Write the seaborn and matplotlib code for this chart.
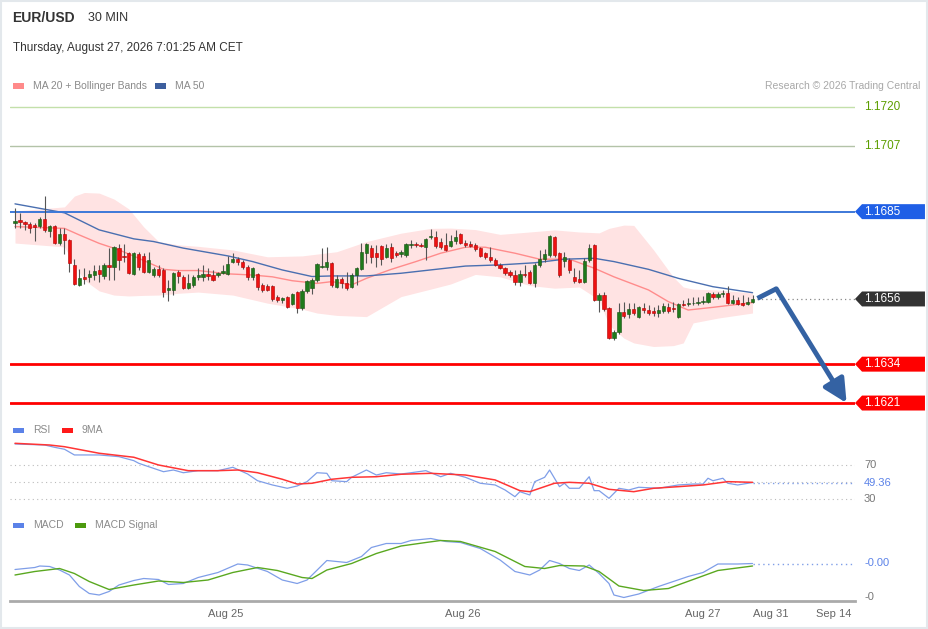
import numpy as np
import pandas as pd
import matplotlib
matplotlib.use("Agg")
import matplotlib.pyplot as plt
from matplotlib.patches import Polygon, Rectangle
import seaborn as sns

# ---- EUR/USD 30 min candles ----
opens = [1.16812, 1.16822, 1.16815, 1.16809, 1.16805, 1.16802, 1.16825, 1.16785, 1.16802, 1.16745,
         1.16775, 1.16755, 1.16672, 1.16605, 1.16631, 1.16631, 1.16638, 1.16655, 1.16635, 1.16672,
         1.16665, 1.16728, 1.16702, 1.16712, 1.16642, 1.16708, 1.16702, 1.16648, 1.16638, 1.16658,
         1.16655, 1.16588, 1.16588, 1.16648, 1.16631, 1.16595, 1.16605, 1.16631, 1.16631, 1.16642,
         1.16638, 1.16638, 1.16645, 1.16642, 1.16682, 1.16692, 1.16682, 1.16665, 1.16631, 1.16642,
         1.16605, 1.16601, 1.16601, 1.16565, 1.16555, 1.16565, 1.16541, 1.16581, 1.16528, 1.16585,
         1.16595, 1.16621, 1.16665, 1.16665, 1.16678, 1.16598, 1.16625, 1.16611, 1.16598, 1.16638,
         1.16658, 1.16712, 1.16728, 1.16712, 1.16735, 1.16698, 1.16732, 1.16712, 1.16708, 1.16705,
         1.16739, 1.16742, 1.16739, 1.16732, 1.16765, 1.16765, 1.16749, 1.16739, 1.16735, 1.16752,
         1.16775, 1.16745, 1.16742, 1.16739, 1.16728, 1.16712, 1.16698, 1.16688, 1.16672, 1.16662,
         1.16648, 1.16638, 1.16615, 1.16642, 1.16648, 1.16611, 1.16672, 1.16692, 1.16705, 1.16765,
         1.16712, 1.16685, 1.16688, 1.16631, 1.16625, 1.16615, 1.16688, 1.16739, 1.16555, 1.16571,
         1.16528, 1.16427, 1.16448, 1.16514, 1.16508, 1.16524, 1.16498, 1.16528, 1.16521, 1.16518,
         1.16511, 1.16518, 1.16531, 1.16528, 1.16498, 1.16541, 1.16541, 1.16544, 1.16545, 1.16548,
         1.16548, 1.16575, 1.16565, 1.16575, 1.16578, 1.16545, 1.16555, 1.16545, 1.16541, 1.16548]
highs = [1.16862, 1.16846, 1.16819, 1.16815, 1.16812, 1.16832, 1.16902, 1.16805, 1.16805, 1.16795,
         1.16795, 1.16759, 1.16692, 1.16658, 1.16662, 1.16655, 1.16672, 1.16672, 1.16678, 1.16728,
         1.16735, 1.16742, 1.16742, 1.16715, 1.16715, 1.16715, 1.16712, 1.16715, 1.16665, 1.16672,
         1.16662, 1.16621, 1.16648, 1.16655, 1.16638, 1.16642, 1.16638, 1.16662, 1.16672, 1.16662,
         1.16655, 1.16648, 1.16672, 1.16702, 1.16712, 1.16698, 1.16688, 1.16672, 1.16665, 1.16645,
         1.16611, 1.16608, 1.16605, 1.16571, 1.16565, 1.16568, 1.16578, 1.16585, 1.16591, 1.16621,
         1.16628, 1.16678, 1.16728, 1.16732, 1.16682, 1.16638, 1.16631, 1.16648, 1.16645, 1.16665,
         1.16745, 1.16745, 1.16739, 1.16739, 1.16739, 1.16742, 1.16745, 1.16718, 1.16722, 1.16745,
         1.16755, 1.16749, 1.16745, 1.16762, 1.16792, 1.16785, 1.16762, 1.16779, 1.16772, 1.16789,
         1.16779, 1.16755, 1.16752, 1.16745, 1.16732, 1.16715, 1.16732, 1.16695, 1.16678, 1.16665,
         1.16655, 1.16655, 1.16655, 1.16672, 1.16655, 1.16678, 1.16722, 1.16725, 1.16772, 1.16769,
         1.16715, 1.16715, 1.16695, 1.16662, 1.16655, 1.16695, 1.16742, 1.16742, 1.16578, 1.16581,
         1.16531, 1.16454, 1.16545, 1.16548, 1.16545, 1.16545, 1.16534, 1.16545, 1.16538, 1.16531,
         1.16538, 1.16545, 1.16545, 1.16548, 1.16545, 1.16555, 1.16561, 1.16565, 1.16565, 1.16568,
         1.16581, 1.16581, 1.16581, 1.16588, 1.16601, 1.16571, 1.16565, 1.16571, 1.16565, 1.16571]
lows = [1.16795, 1.16795, 1.16789, 1.16779, 1.16752, 1.16795, 1.16782, 1.16765, 1.16742, 1.16739,
        1.16708, 1.16648, 1.16605, 1.16601, 1.16608, 1.16615, 1.16621, 1.16615, 1.16625, 1.16621,
        1.16621, 1.16655, 1.16682, 1.16642, 1.16638, 1.16655, 1.16645, 1.16645, 1.16631, 1.16631,
        1.16565, 1.16551, 1.16571, 1.16611, 1.16591, 1.16591, 1.16598, 1.16621, 1.16618, 1.16621,
        1.16618, 1.16631, 1.16642, 1.16638, 1.16678, 1.16672, 1.16658, 1.16621, 1.16621, 1.16588,
        1.16581, 1.16585, 1.16551, 1.16548, 1.16545, 1.16528, 1.16538, 1.16511, 1.16521, 1.16578,
        1.16575, 1.16615, 1.16662, 1.16655, 1.16598, 1.16595, 1.16595, 1.16588, 1.16595, 1.16605,
        1.16655, 1.16678, 1.16678, 1.16665, 1.16672, 1.16695, 1.16682, 1.16698, 1.16698, 1.16698,
        1.16728, 1.16732, 1.16732, 1.16688, 1.16759, 1.16728, 1.16725, 1.16718, 1.16732, 1.16742,
        1.16742, 1.16732, 1.16732, 1.16718, 1.16698, 1.16692, 1.16682, 1.16668, 1.16658, 1.16638,
        1.16631, 1.16605, 1.16601, 1.16631, 1.16608, 1.16598, 1.16665, 1.16682, 1.16698, 1.16698,
        1.16631, 1.16665, 1.16645, 1.16611, 1.16611, 1.16611, 1.16682, 1.16551, 1.16514, 1.16518,
        1.16424, 1.16421, 1.16441, 1.16494, 1.16494, 1.16504, 1.16494, 1.16511, 1.16504, 1.16501,
        1.16498, 1.16511, 1.16511, 1.16514, 1.16494, 1.16534, 1.16534, 1.16538, 1.16538, 1.16541,
        1.16545, 1.16558, 1.16558, 1.16565, 1.16541, 1.16541, 1.16538, 1.16534, 1.16538, 1.16545]
closes = [1.16819, 1.16815, 1.16809, 1.16795, 1.16799, 1.16825, 1.16789, 1.16802, 1.16745, 1.16775,
          1.16755, 1.16678, 1.16608, 1.16628, 1.16625, 1.16642, 1.16652, 1.16642, 1.16672, 1.16665,
          1.16732, 1.16688, 1.16698, 1.16645, 1.16712, 1.16665, 1.16648, 1.16688, 1.16658, 1.16638,
          1.16581, 1.16595, 1.16645, 1.16635, 1.16595, 1.16611, 1.16631, 1.16638, 1.16642, 1.16635,
          1.16621, 1.16645, 1.16652, 1.16675, 1.16692, 1.16682, 1.16665, 1.16631, 1.16662, 1.16598,
          1.16588, 1.16588, 1.16558, 1.16555, 1.16561, 1.16531, 1.16575, 1.16528, 1.16585, 1.16618,
          1.16621, 1.16675, 1.16668, 1.16682, 1.16605, 1.16625, 1.16611, 1.16595, 1.16638, 1.16662,
          1.16715, 1.16742, 1.16698, 1.16698, 1.16692, 1.16728, 1.16695, 1.16705, 1.16715, 1.16742,
          1.16742, 1.16739, 1.16735, 1.16759, 1.16769, 1.16735, 1.16732, 1.16722, 1.16752, 1.16765,
          1.16745, 1.16739, 1.16735, 1.16725, 1.16702, 1.16698, 1.16688, 1.16672, 1.16662, 1.16645,
          1.16638, 1.16615, 1.16642, 1.16638, 1.16611, 1.16672, 1.16692, 1.16708, 1.16769, 1.16705,
          1.16638, 1.16698, 1.16655, 1.16618, 1.16615, 1.16685, 1.16728, 1.16555, 1.16571, 1.16524,
          1.16427, 1.16448, 1.16514, 1.16501, 1.16524, 1.16511, 1.16531, 1.16521, 1.16511, 1.16511,
          1.16521, 1.16534, 1.16518, 1.16524, 1.16541, 1.16538, 1.16545, 1.16546, 1.16548, 1.16551,
          1.16578, 1.16565, 1.16575, 1.16578, 1.16545, 1.16555, 1.16541, 1.16538, 1.16548, 1.16558]

# ---- overlays ----
bb_idx = [0, 10, 12, 14, 17, 20, 23, 26, 29, 33, 37, 44, 51, 58, 61, 65, 71, 78, 84, 88,
          93, 98, 104, 109, 114, 118, 120, 123, 125, 129, 133, 135, 137, 142, 149]
bb_upper = [1.16852, 1.16866, 1.16902, 1.16914, 1.16912, 1.16892, 1.16859, 1.16799, 1.16750, 1.16739,
            1.16734, 1.16722, 1.16699, 1.16702, 1.16708, 1.16716, 1.16750, 1.16778, 1.16794, 1.16795,
            1.16790, 1.16774, 1.16782, 1.16789, 1.16782, 1.16779, 1.16794, 1.16805, 1.16804, 1.16722,
            1.16631, 1.16598, 1.16591, 1.16588, 1.16578]
bb_lower = [1.16745, 1.16732, 1.16672, 1.16621, 1.16585, 1.16571, 1.16568, 1.16570, 1.16571, 1.16577,
            1.16581, 1.16571, 1.16544, 1.16524, 1.16511, 1.16503, 1.16499, 1.16566, 1.16591, 1.16608,
            1.16640, 1.16632, 1.16603, 1.16594, 1.16598, 1.16555, 1.16471, 1.16427, 1.16411, 1.16399,
            1.16402, 1.16411, 1.16478, 1.16494, 1.16511]

ma20_idx = [0, 10, 13, 17, 21, 25, 30, 33, 37, 43, 48, 52, 56, 61, 64, 68, 71, 76, 81, 86,
            91, 95, 101, 106, 112, 117, 121, 128, 132, 136, 141, 149]
ma20 = [1.16800, 1.16794, 1.16772, 1.16744, 1.16722, 1.16694, 1.16657, 1.16653, 1.16653, 1.16642,
        1.16638, 1.16632, 1.16619, 1.16610, 1.16616, 1.16605, 1.16627, 1.16657, 1.16683, 1.16711,
        1.16731, 1.16731, 1.16711, 1.16691, 1.16691, 1.16661, 1.16632, 1.16588, 1.16549, 1.16521,
        1.16530, 1.16546]

ma50_idx = [0, 10, 17, 24, 28, 34, 43, 48, 54, 60, 64, 71, 78, 85, 91, 98, 105, 111, 117, 121,
            128, 134, 141, 149]
ma50 = [1.16876, 1.16846, 1.16789, 1.16759, 1.16750, 1.16728, 1.16702, 1.16683, 1.16655, 1.16633,
        1.16635, 1.16635, 1.16644, 1.16657, 1.16668, 1.16672, 1.16679, 1.16691, 1.16694, 1.16683,
        1.16657, 1.16627, 1.16599, 1.16579]

# ---- key levels and forecast ----
levels = [1.1720, 1.1707, 1.1685, 1.1634, 1.1621]
forecast_idx = [150, 153.8, 168]
forecast_price = [1.1656, 1.16592, 1.1621]

# ---- RSI ----
rsi_idx = [0, 6, 8, 10, 12, 17, 21, 24, 25, 27, 30, 32, 34, 37, 41, 44, 47, 49, 52, 55,
           57, 59, 61, 63, 64, 67, 68, 71, 73, 75, 78, 80, 83, 86, 88, 91, 94, 97, 99, 101,
           102, 104, 105, 107, 108, 110, 111, 112, 114, 116, 117, 118, 120, 122, 124, 126, 130, 134, 137, 139,
           140, 141, 143, 144, 146, 149]
rsi = [94.7, 93.5, 90.8, 88.5, 81.8, 81.8, 79.8, 75.1, 72.0, 68.0, 62.1, 64.1, 60.9, 63.3, 63.3, 67.3, 59.4, 51.5, 46.5, 42.6,
       45.3, 50.4, 60.9, 60.2, 51.5, 50.4, 55.5, 64.1, 58.2, 60.9, 59.4, 60.9, 63.3, 56.2, 60.2, 55.5, 48.5, 46.5, 40.6, 32.7,
       38.6, 34.7, 50.4, 55.5, 64.1, 44.5, 48.5, 42.6, 42.6, 56.2, 39.8, 39.8, 30.8, 42.6, 40.6, 43.8, 42.6, 46.5, 47.6, 47.6,
       54.4, 51.5, 54.4, 48.5, 46.5, 49.36]
rsi_ma_idx = [0, 7, 10, 17, 24, 29, 35, 41, 45, 49, 54, 57, 60, 64, 68, 73, 78, 84, 91, 97,
              102, 104, 109, 112, 116, 120, 125, 129, 134, 139, 144, 149]
rsi_ma = [95.5, 93.5, 91.5, 83.8, 79.1, 70.0, 63.3, 63.3, 64.1, 60.9, 53.2, 47.6, 48.5, 53.2, 55.5, 56.2, 59.1, 60.2, 58.2, 52.4,
          39.8, 38.6, 48.5, 49.6, 48.5, 41.4, 38.6, 42.6, 44.5, 46.5, 50.4, 49.6]
rsi_levels = [70, 50, 30]

# ---- MACD ----
macd_idx = [0, 4, 5, 7, 9, 11, 13, 15, 17, 19, 21, 24, 26, 29, 31, 34, 37, 41, 45, 47,
            51, 54, 57, 59, 63, 67, 70, 72, 75, 78, 80, 84, 87, 90, 94, 98, 101, 104, 106, 108,
            110, 112, 114, 116, 118, 120, 121, 123, 126, 130, 136, 139, 142, 146, 149]
macd = [-0.00029, -0.00025, -0.00022, -0.00023, -0.00030, -0.00040, -0.00063, -0.00077, -0.00080, -0.00073,
        -0.00060, -0.00051, -0.00047, -0.00049, -0.00059, -0.00057, -0.00045, -0.00035, -0.00018, -0.00020,
        -0.00033, -0.00050, -0.00057, -0.00050, -0.00011, -0.00015, -0.00003, 0.00015, 0.00023, 0.00023,
        0.00029, 0.00033, 0.00027, 0.00025, 0.00013, -0.00010, -0.00033, -0.00040, -0.00030, -0.00011,
        -0.00017, -0.00027, -0.00031, -0.00020, -0.00037, -0.00057, -0.00080, -0.00085, -0.00078, -0.00063,
        -0.00043, -0.00035, -0.00018, -0.00018, -0.00017]
signal_idx = [0, 4, 9, 12, 15, 19, 24, 29, 34, 39, 44, 49, 53, 58, 60, 63, 68, 73, 78, 83,
              86, 90, 97, 103, 107, 110, 115, 118, 122, 127, 132, 137, 142, 149]
signal = [-0.00040, -0.00033, -0.00027, -0.00037, -0.00053, -0.00069, -0.00060, -0.00052, -0.00055, -0.00050,
          -0.00035, -0.00025, -0.00031, -0.00045, -0.00047, -0.00030, -0.00017, 0.00003, 0.00018, 0.00025,
          0.00029, 0.00027, 0.00007, -0.00023, -0.00027, -0.00021, -0.00022, -0.00033, -0.00062, -0.00071,
          -0.00067, -0.00049, -0.00031, -0.00022]
macd_tick = -0.00084

# ---- x axis ----
tick_pos = [42.6, 90.5, 139.0, 152.7, 165.3]
tick_labels = ["Aug 25", "Aug 26", "Aug 27", "Aug 31", "Sep 14"]

candles = pd.DataFrame({"open": opens, "high": highs, "low": lows, "close": closes})
candles["idx"] = np.arange(len(candles))
last_price = candles["close"].iloc[-1]

sns.set_style("white")
plt.rcParams["font.family"] = ["Liberation Sans", "DejaVu Sans"]

W, H = 929, 629
fig = plt.figure(figsize=(W / 100, H / 100), dpi=100)


def box(x0, y0, x1, y1):
    return [x0 / W, 1 - y1 / H, (x1 - x0) / W, (y1 - y0) / H]


ax = fig.add_axes(box(10, 95, 855, 415))
ax_rsi = fig.add_axes(box(10, 436, 855, 508))
ax_macd = fig.add_axes(box(10, 530, 855, 601))
xlim = (-1.01, 169.7)
for a in (ax, ax_rsi, ax_macd):
    a.set_xlim(*xlim)
    a.set_facecolor("none")
    for s in a.spines.values():
        s.set_visible(False)
    a.set_yticks([])
    a.set_xticks([])
ax.set_ylim(1.16170, 1.17240)
ax_rsi.set_ylim(19.4, 104.1)
ax_macd.set_ylim(-0.00092, 0.0005)

# bollinger band + moving averages
ax.fill_between(bb_idx, bb_lower, bb_upper, color="#ffe3e3", lw=0, zorder=1)
sns.lineplot(x=ma20_idx, y=ma20, ax=ax, color="#ff8c8c", lw=1, zorder=2)
sns.lineplot(x=ma50_idx, y=ma50, ax=ax, color="#4a6fb0", lw=1, zorder=2)

# candles
up = candles["close"] >= candles["open"]
body_lo = candles[["open", "close"]].min(axis=1)
body_h = (candles["close"] - candles["open"]).abs().clip(lower=0.00002)
ax.vlines(candles["idx"], candles["low"], candles["high"], color="#555555", lw=0.8, zorder=3)
ax.bar(candles["idx"], body_h, bottom=body_lo, width=0.66,
       color=np.where(up, "#1f7a1b", "#ee1111"),
       edgecolor=np.where(up, "#184f12", "#b00000"), lw=0.4, zorder=4)

# key levels
yt = ax.get_yaxis_transform()
tag_h = 0.00025
level_style = {
    1.1720: dict(color="#c3e0aa", lw=1.0, tag=None),
    1.1707: dict(color="#b3c3a8", lw=1.0, tag=None),
    1.1685: dict(color="#3d78d8", lw=1.4, tag="#1f5fe6"),
    1.1634: dict(color="#ff0000", lw=2.0, tag="#ff0000"),
    1.1621: dict(color="#ff0000", lw=2.0, tag="#ff0000"),
}


def price_tag(a, y, text, fc, h):
    tr = a.get_yaxis_transform()
    pts = [(1.0, y), (1.0083, y + h), (1.0828, y + h), (1.0828, y - h), (1.0083, y - h)]
    a.add_patch(Polygon(pts, closed=True, transform=tr, fc=fc, ec="none", clip_on=False, zorder=6))
    a.text(1.0107, y, text, transform=tr, color="white", fontsize=8.5, va="center", ha="left", zorder=7)


for lvl in levels:
    st = level_style[lvl]
    ax.axhline(lvl, color=st["color"], lw=st["lw"], zorder=2)
    if st["tag"] is None:
        ax.text(1.0107, lvl, f"{lvl:.4f}", transform=yt, color="#5c9e00", fontsize=8.5, va="center")
    else:
        price_tag(ax, lvl, f"{lvl:.4f}", st["tag"], tag_h)

ax.hlines(last_price, forecast_idx[0], xlim[1], color="#888888", lw=0.9, linestyles=(0, (1, 2.5)), zorder=2)
price_tag(ax, last_price, f"{last_price:.4f}", "#333333", tag_h)

# forecast arrow
ax.plot(forecast_idx[:2], forecast_price[:2], color="#3462a3", lw=3.5, solid_capstyle="butt", zorder=5)
ax.annotate("", xy=(forecast_idx[2], forecast_price[2]), xytext=(forecast_idx[1], forecast_price[1]),
            arrowprops=dict(arrowstyle="-|>,head_length=1.4,head_width=0.7", color="#3462a3",
                            lw=3.5, shrinkA=0, shrinkB=0), zorder=5)

# RSI panel
for lv in rsi_levels:
    ax_rsi.axhline(lv, color="#bbbbbb", lw=0.8, ls=(0, (1, 3)))
sns.lineplot(x=rsi_idx, y=rsi, ax=ax_rsi, color="#7f9ee8", lw=0.9)
sns.lineplot(x=rsi_ma_idx, y=rsi_ma, ax=ax_rsi, color="#ff3535", lw=1.1)
ax_rsi.hlines(rsi[-1], rsi_idx[-1], xlim[1], color="#7f9ee8", lw=1, linestyles=(0, (1, 2.5)))
ryt = ax_rsi.get_yaxis_transform()
ax_rsi.text(1.0107, 70, "70", transform=ryt, color="#777777", fontsize=8, va="center")
ax_rsi.text(1.0107, 30, "30", transform=ryt, color="#777777", fontsize=8, va="center")
ax_rsi.text(1.0107, rsi[-1], f"{rsi[-1]:.2f}", transform=ryt, color="#5b82e8", fontsize=8, va="center")

# MACD panel
sns.lineplot(x=macd_idx, y=macd, ax=ax_macd, color="#7f9ee8", lw=0.9)
sns.lineplot(x=signal_idx, y=signal, ax=ax_macd, color="#5aa820", lw=1.0)
ax_macd.hlines(macd[-1], macd_idx[-1], xlim[1], color="#7f9ee8", lw=1, linestyles=(0, (1, 2.5)))
myt = ax_macd.get_yaxis_transform()
ax_macd.text(1.0107, macd[-1], f"{macd[-1]:.2f}", transform=myt, color="#5b82e8", fontsize=8, va="center")
ax_macd.text(1.0107, macd_tick, f"{macd_tick:.0f}", transform=myt, color="#777777", fontsize=8, va="center")

ax_macd.spines["bottom"].set_visible(True)
ax_macd.spines["bottom"].set_color("#aaaaaa")
ax_macd.spines["bottom"].set_linewidth(2)
ax_macd.set_xticks(tick_pos)
ax_macd.set_xticklabels(tick_labels)
ax_macd.set_xticks(list(xlim), minor=True)
ax_macd.tick_params(axis="x", which="major", length=0, pad=6, labelsize=8, labelcolor="#666666")
ax_macd.tick_params(axis="x", which="minor", length=5, width=1.5, color="#aaaaaa", direction="out")

for a in (ax, ax_rsi, ax_macd):
    a.set_xlabel("")
    a.set_ylabel("")

# header and legends
fig.text(12 / W, 1 - 18 / H, "EUR/USD", fontsize=10, fontweight="bold", color="#333333", va="center")
fig.text(88 / W, 1 - 18 / H, "30 MIN", fontsize=9, color="#333333", va="center")
fig.text(13 / W, 1 - 48 / H, "Thursday, August 27, 2026 7:01:25 AM CET", fontsize=8.5,
         color="#333333", va="center")
fig.text(920 / W, 1 - 86 / H, "Research \u00a9 2026 Trading Central", fontsize=7.5,
         color="#a8a8a8", va="center", ha="right")


def legend_item(x, y, color, label):
    fig.patches.append(Rectangle((x / W, 1 - (y + 2.5) / H), 11 / W, 5 / H,
                                 transform=fig.transFigure, fc=color, ec="none"))
    fig.text((x + 20) / W, 1 - y / H, label, fontsize=7.5, color="#8a8a8a", va="center")


legend_item(13, 86, "#ff8a8a", "MA 20 + Bollinger Bands")
legend_item(155, 86, "#3d5f9e", "MA 50")
legend_item(13, 430, "#5b82e8", "RSI")
legend_item(62, 430, "#ff1a1a", "9MA")
legend_item(13, 525, "#5b82e8", "MACD")
legend_item(75, 525, "#4c9a0e", "MACD Signal")

fig.patches.append(Rectangle((0.001, 0.001), 0.997, 0.997, transform=fig.transFigure,
                             fill=False, ec="#e3e8ec", lw=1.5))

fig.savefig("out.png", dpi=100)
